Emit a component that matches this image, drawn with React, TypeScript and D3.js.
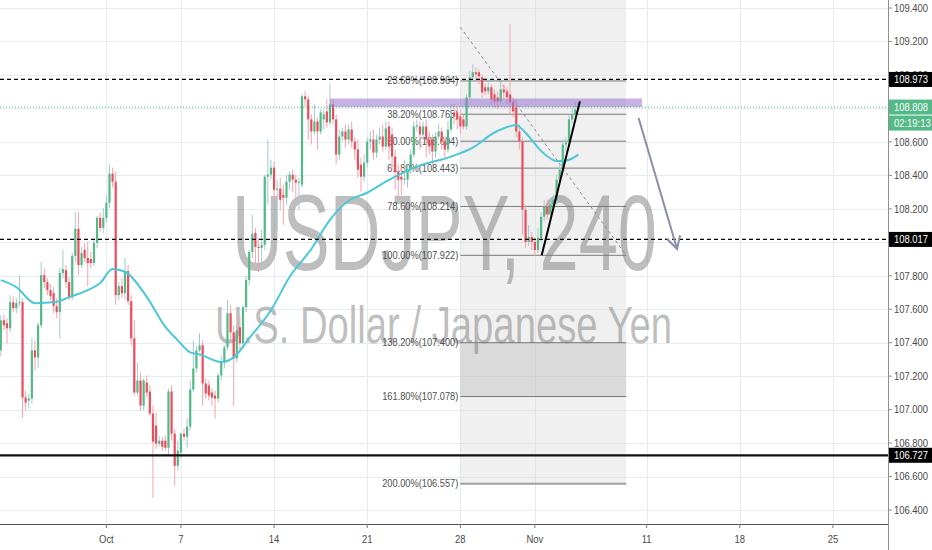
import React from 'react';
import * as d3 from 'd3';

// ---------- data ----------
const priceTicks = [106.4, 106.6, 106.8, 107.0, 107.2, 107.4, 107.6, 107.8, 108.0, 108.2, 108.4, 108.6, 108.8, 109.0, 109.2, 109.4];
const dateLabels = ['Oct', '7', '14', '21', '28', 'Nov', '11', '18', '25'];
const dateTradingDay = [6, 10, 15, 20, 25, 29, 35, 40, 45];
const BARS_PER_DAY = 6;

const FIRST_BAR = 2;
const opens = [
  107.354, 107.534, 107.516, 107.486, 107.642, 107.606, 107.636, 107.642, 107.072, 107.054,
  107.066, 107.354, 107.312, 107.504, 107.804, 107.762, 107.714, 107.696, 107.618, 107.582,
  107.816, 107.834, 107.762, 107.672, 107.918, 108.080, 107.864, 107.954, 107.906, 107.900,
  107.876, 107.996, 108.146, 108.086, 108.146, 108.236, 108.410, 108.362, 107.684, 107.738,
  107.696, 107.828, 107.648, 107.426, 107.102, 107.174, 107.024, 107.162, 107.108, 106.976,
  106.904, 106.796, 106.814, 106.814, 106.772, 107.108, 106.856, 106.664, 106.742, 106.856,
  106.838, 106.898, 107.120, 107.246, 107.354, 107.384, 107.156, 107.144, 107.102, 107.084,
  107.066, 107.204, 107.282, 107.372, 107.576, 107.462, 107.306, 107.492, 107.396, 107.612,
  107.774, 107.942, 108.056, 107.972, 107.966, 107.984, 108.392, 108.404, 108.446, 108.314,
  108.320, 108.284, 108.266, 108.362, 108.404, 108.374, 108.356, 108.344, 108.872, 108.854,
  108.734, 108.662, 108.722, 108.662, 108.734, 108.782, 108.716, 108.824, 108.734, 108.524,
  108.632, 108.662, 108.614, 108.674, 108.602, 108.554, 108.464, 108.392, 108.476, 108.602,
  108.614, 108.536, 108.614, 108.632, 108.572, 108.692, 108.644, 108.512, 108.422, 108.392,
  108.374, 108.374, 108.434, 108.524, 108.692, 108.692, 108.644, 108.692, 108.614, 108.614,
  108.542, 108.632, 108.662, 108.602, 108.554, 108.674, 108.776, 108.776, 108.752, 108.734,
  108.692, 108.866, 108.986, 109.016, 109.016, 108.986, 108.926, 108.902, 108.926, 108.884,
  108.866, 108.842, 108.914, 108.902, 108.884, 108.836, 108.806, 108.662, 108.602, 108.194,
  108.002, 108.032, 108.002, 107.954, 108.026, 108.152, 108.212, 108.170, 108.224, 108.254,
  108.374, 108.434, 108.584, 108.596, 108.734, 108.764, 108.794,
];
const highs = [
  107.564, 107.570, 107.546, 107.684, 107.678, 107.666, 107.804, 107.666, 107.114, 107.096,
  107.426, 107.414, 107.522, 107.882, 107.846, 107.786, 107.750, 107.732, 107.666, 107.846,
  107.954, 107.864, 107.792, 107.936, 108.182, 108.182, 107.972, 107.996, 108.002, 107.942,
  108.014, 108.158, 108.176, 108.206, 108.284, 108.464, 108.446, 108.422, 107.762, 107.786,
  107.906, 107.864, 107.684, 107.534, 107.282, 107.222, 107.186, 107.204, 107.144, 107.024,
  106.982, 106.844, 106.838, 106.844, 107.126, 107.144, 106.886, 106.814, 106.862, 106.886,
  106.946, 107.174, 107.414, 107.384, 107.456, 107.414, 107.186, 107.174, 107.126, 107.114,
  107.222, 107.324, 107.384, 107.654, 107.624, 107.504, 107.504, 107.564, 107.624, 107.804,
  107.954, 108.164, 108.086, 108.026, 108.074, 108.404, 108.614, 108.494, 108.482, 108.374,
  108.386, 108.344, 108.404, 108.422, 108.434, 108.404, 108.386, 108.884, 108.902, 108.872,
  108.764, 108.824, 108.746, 108.794, 108.794, 108.854, 108.944, 108.854, 108.764, 108.674,
  108.686, 108.704, 108.704, 108.722, 108.626, 108.614, 108.506, 108.524, 108.626, 108.662,
  108.674, 108.644, 108.686, 108.704, 108.722, 108.722, 108.686, 108.554, 108.464, 108.446,
  108.494, 108.464, 108.554, 108.722, 108.734, 108.722, 108.722, 108.734, 108.662, 108.644,
  108.656, 108.704, 108.686, 108.626, 108.722, 108.824, 108.824, 108.806, 108.794, 108.764,
  108.884, 109.022, 109.064, 109.046, 109.034, 109.004, 108.950, 108.974, 108.944, 108.914,
  108.902, 108.962, 108.944, 108.926, 109.304, 108.866, 108.854, 108.704, 108.626, 108.224,
  108.104, 108.062, 108.026, 108.086, 108.182, 108.254, 108.254, 108.266, 108.284, 108.404,
  108.464, 108.614, 108.626, 108.764, 108.806, 108.836, 108.842,
];
const lows = [
  107.318, 107.474, 107.396, 107.462, 107.582, 107.576, 107.618, 106.952, 106.994, 107.006,
  107.036, 107.234, 107.246, 107.486, 107.726, 107.684, 107.654, 107.576, 107.546, 107.426,
  107.786, 107.726, 107.654, 107.654, 107.882, 107.804, 107.846, 107.882, 107.738, 107.846,
  107.858, 107.966, 108.062, 108.056, 108.122, 108.206, 108.326, 107.624, 107.654, 107.666,
  107.654, 107.624, 107.384, 107.084, 107.084, 106.994, 106.994, 107.072, 106.964, 106.472,
  106.766, 106.778, 106.754, 106.754, 106.724, 106.814, 106.544, 106.634, 106.706, 106.814,
  106.766, 106.874, 107.102, 107.222, 107.342, 107.024, 107.066, 107.054, 107.024, 106.946,
  107.042, 107.174, 107.246, 107.354, 107.414, 107.024, 107.282, 107.354, 107.366, 107.582,
  107.744, 107.906, 107.864, 107.822, 107.834, 107.954, 108.224, 108.374, 108.254, 108.074,
  108.194, 108.104, 108.224, 108.314, 108.302, 108.254, 108.194, 108.326, 108.806, 108.614,
  108.584, 108.644, 108.554, 108.644, 108.674, 108.686, 108.698, 108.704, 108.464, 108.494,
  108.602, 108.566, 108.584, 108.566, 108.494, 108.386, 108.302, 108.362, 108.446, 108.554,
  108.494, 108.506, 108.584, 108.542, 108.554, 108.494, 108.434, 108.314, 108.266, 108.284,
  108.344, 108.326, 108.404, 108.506, 108.662, 108.554, 108.614, 108.506, 108.524, 108.464,
  108.506, 108.614, 108.554, 108.506, 108.536, 108.656, 108.704, 108.674, 108.644, 108.674,
  108.674, 108.854, 108.962, 108.974, 108.944, 108.866, 108.878, 108.884, 108.824, 108.806,
  108.794, 108.824, 108.854, 108.824, 108.764, 108.746, 108.626, 108.554, 108.044, 107.966,
  107.978, 107.954, 107.918, 107.936, 108.002, 108.122, 108.134, 108.146, 108.206, 108.224,
  108.344, 108.416, 108.542, 108.566, 108.710, 108.746, 108.776,
];
const closes = [
  107.534, 107.504, 107.486, 107.642, 107.606, 107.636, 107.642, 107.072, 107.042, 107.066,
  107.354, 107.312, 107.504, 107.804, 107.762, 107.714, 107.678, 107.618, 107.582, 107.816,
  107.840, 107.762, 107.672, 107.918, 108.080, 107.864, 107.936, 107.906, 107.876, 107.876,
  107.996, 108.146, 108.086, 108.146, 108.236, 108.410, 108.362, 107.684, 107.738, 107.696,
  107.828, 107.648, 107.426, 107.102, 107.174, 107.024, 107.174, 107.102, 106.976, 106.808,
  106.796, 106.814, 106.778, 106.772, 107.108, 106.856, 106.664, 106.754, 106.856, 106.838,
  106.898, 107.120, 107.246, 107.354, 107.384, 107.156, 107.096, 107.084, 107.072, 107.066,
  107.204, 107.282, 107.372, 107.576, 107.462, 107.306, 107.474, 107.396, 107.612, 107.774,
  107.942, 108.050, 107.972, 107.966, 107.984, 108.392, 108.404, 108.446, 108.314, 108.320,
  108.254, 108.266, 108.362, 108.404, 108.374, 108.356, 108.362, 108.872, 108.854, 108.734,
  108.662, 108.722, 108.662, 108.776, 108.764, 108.716, 108.824, 108.734, 108.524, 108.632,
  108.662, 108.614, 108.674, 108.602, 108.554, 108.434, 108.392, 108.476, 108.602, 108.614,
  108.536, 108.614, 108.632, 108.572, 108.680, 108.572, 108.512, 108.422, 108.374, 108.374,
  108.380, 108.434, 108.524, 108.692, 108.698, 108.644, 108.692, 108.614, 108.572, 108.542,
  108.632, 108.662, 108.602, 108.554, 108.674, 108.752, 108.752, 108.734, 108.692, 108.692,
  108.866, 108.986, 109.016, 109.004, 108.992, 108.896, 108.902, 108.926, 108.854, 108.842,
  108.842, 108.914, 108.896, 108.866, 108.836, 108.782, 108.662, 108.602, 108.194, 108.002,
  108.032, 108.002, 107.954, 108.026, 108.152, 108.212, 108.170, 108.224, 108.254, 108.374,
  108.434, 108.584, 108.596, 108.734, 108.764, 108.794, 108.808,
];

// moving average
const maBars = [2, 7, 13, 20, 24, 30, 34, 38, 42, 49, 55, 59, 63, 66, 73, 77, 82, 89, 95, 102, 108, 114, 120, 126, 136, 147, 154, 161, 166, 168, 170, 172, 175, 178, 181, 184, 188];
const maValues = [107.774, 107.732, 107.636, 107.644, 107.672, 107.714, 107.756, 107.840, 107.824, 107.674, 107.494, 107.414, 107.342, 107.330, 107.284, 107.312, 107.426, 107.594, 107.792, 107.960, 108.134, 108.248, 108.296, 108.362, 108.452, 108.512, 108.566, 108.656, 108.694, 108.701, 108.674, 108.634, 108.566, 108.514, 108.485, 108.488, 108.524];

// fibonacci
const fibLevels = ['23.60%', '38.20%', '50.00%', '61.80%', '78.60%', '100.00%', '138.20%', '161.80%', '200.00%'];
const fibPrices = [108.964, 108.765, 108.604, 108.443, 108.214, 107.922, 107.400, 107.078, 106.557];
const fibZeroPrice = 109.2855;
const fibStartBar = 150;
const fibEndBar = 203.4;

const dashedLevels = [108.973, 108.017];
const solidLevel = 106.727;
const lastPrice = 108.808;
const countdown = '02:19:13';

const zoneBars = [108, 208.5];
const zonePrices = [108.808, 108.859];
const trendBars = [176.2, 188.5];
const trendPrices = [107.922, 108.842];
const arrowBars = [207.4, 219.8];
const arrowPrices = [108.743, 107.96];

const symbolText = 'USDJPY, 240';
const descText = 'U.S. Dollar / Japanese Yen';

// ---------- layout ----------
const W = 932;
const H = 550;
const PLOT_R = 888;
const AXIS_Y = 524;
const FONT = "'Liberation Sans', Arial, sans-serif";
const UP = '#53b987';
const DOWN = '#eb4d5c';
const UP_WICK = '#a2c9d0';
const DOWN_WICK = '#f3a4ac';
const GRID = '#e6edf2';

const x = d3.scaleLinear().domain([0, 300]).range([-5.4, -5.4 + 300 * 3.105]);
const y = d3.scaleLinear().domain([106.4, 109.4]).range([510, 8]);
const fmt = d3.format('.3f');

function CText({ x: tx, y: ty, sx = 0.9, size = 10.5, anchor = 'start', fill = '#4a4a4a', children }: any) {
  return (
    <text
      transform={`translate(${tx},${ty}) scale(${sx},1)`}
      textAnchor={anchor}
      fontSize={size}
      fontFamily={FONT}
      fill={fill}
    >
      {children}
    </text>
  );
}

export default function App() {
  const candles = opens.map((o, k) => ({
    i: FIRST_BAR + k,
    o,
    h: Math.max(highs[k], o, closes[k]),
    l: Math.min(lows[k], o, closes[k]),
    c: closes[k],
  }));

  const maLine = d3
    .line<number>()
    .x((_, k) => x(maBars[k]))
    .y((v) => y(v))
    .curve(d3.curveMonotoneX)(maValues) as string;

  const fx0 = x(fibStartBar);
  const fx1 = x(fibEndBar);
  const bw = 2.2;

  // arrow geometry
  const ax0 = x(arrowBars[0]);
  const ay0 = y(arrowPrices[0]);
  const ax1 = x(arrowBars[1]);
  const ay1 = y(arrowPrices[1]);
  const ang = Math.atan2(ay1 - ay0, ax1 - ax0);
  const headLen = 14;
  const headAng = 0.5;
  const hx1 = ax1 - headLen * Math.cos(ang - headAng);
  const hy1 = ay1 - headLen * Math.sin(ang - headAng);
  const hx2 = ax1 - headLen * Math.cos(ang + headAng);
  const hy2 = ay1 - headLen * Math.sin(ang + headAng);

  const boxH = 15;

  return (
    <svg
      width={W}
      height={H}
      style={{ position: 'absolute', left: 0, top: 0, background: '#ffffff' }}
    >
      <defs>
        <clipPath id="plot">
          <rect x={0} y={0} width={PLOT_R} height={AXIS_Y} />
        </clipPath>
      </defs>
      <rect x={0} y={0} width={W} height={H} fill="#ffffff" />

      <g clipPath="url(#plot)">
        {/* grid */}
        {priceTicks.map((p) => (
          <line key={'hg' + p} x1={0} x2={PLOT_R} y1={Math.round(y(p)) + 0.5} y2={Math.round(y(p)) + 0.5} stroke={GRID} strokeWidth={1} />
        ))}
        {dateTradingDay.map((d) => (
          <line key={'vg' + d} x1={Math.round(x(d * BARS_PER_DAY)) + 0.5} x2={Math.round(x(d * BARS_PER_DAY)) + 0.5} y1={0} y2={AXIS_Y} stroke={GRID} strokeWidth={1} />
        ))}

        {/* fib background */}
        <rect x={fx0} y={0} width={fx1 - fx0} height={y(fibPrices[8])} fill="#d9d9d9" fillOpacity={0.4} />
        <rect x={fx0} y={y(fibPrices[6])} width={fx1 - fx0} height={y(fibPrices[7]) - y(fibPrices[6])} fill="#b3b3b3" fillOpacity={0.35} />

        {/* watermark */}
        <text x={232} y={270} fontSize={108} fontFamily={FONT} fill="rgb(110,110,110)" fillOpacity={0.45} textLength={425} lengthAdjust="spacingAndGlyphs">
          {symbolText}
        </text>
        <text x={215} y={343} fontSize={51} fontFamily={FONT} fill="rgb(110,110,110)" fillOpacity={0.45} textLength={457} lengthAdjust="spacingAndGlyphs">
          {descText}
        </text>

        {/* fib levels */}
        {fibPrices.map((p, k) => (
          <line
            key={'fl' + k}
            x1={fx0}
            x2={fx1}
            y1={y(p)}
            y2={y(p)}
            stroke={k === 8 ? '#9e9e9e' : '#7a7a7a'}
            strokeWidth={k === 8 ? 2 : 1}
          />
        ))}
        {fibPrices.map((p, k) => (
          <CText key={'ft' + k} x={fx0 - 2} y={y(p) + 3.5} anchor="end" size={10.3} sx={0.9} fill="#505050">
            {`${fibLevels[k]}(${fmt(p)})`}
          </CText>
        ))}
        <line x1={fx0} y1={y(fibZeroPrice)} x2={fx1} y2={y(fibPrices[5])} stroke="#8a8a8a" strokeWidth={1} strokeDasharray="3,3" />

        {/* candles */}
        {candles.map((d) => {
          const up = d.c >= d.o;
          const cx = x(d.i);
          const top = y(Math.max(d.o, d.c));
          const bot = y(Math.min(d.o, d.c));
          return (
            <g key={'c' + d.i}>
              <line x1={cx} x2={cx} y1={y(d.h)} y2={y(d.l)} stroke={up ? UP_WICK : DOWN_WICK} strokeWidth={1} />
              <rect x={cx - bw / 2} y={top} width={bw} height={Math.max(1, bot - top)} fill={up ? UP : DOWN} />
            </g>
          );
        })}

        {/* moving average */}
        <path d={maLine} fill="none" stroke="#4cc7d8" strokeWidth={2} />

        {/* horizontal levels */}
        {dashedLevels.map((p) => (
          <line key={'dl' + p} x1={0} x2={PLOT_R} y1={y(p)} y2={y(p)} stroke="#000" strokeWidth={1.2} strokeDasharray="4,3" />
        ))}
        <line x1={0} x2={PLOT_R} y1={y(solidLevel)} y2={y(solidLevel)} stroke="#111" strokeWidth={2.2} />
        <line x1={0} x2={PLOT_R} y1={y(lastPrice)} y2={y(lastPrice)} stroke={UP} strokeWidth={1} strokeDasharray="1,2" />

        {/* zone */}
        <rect
          x={x(zoneBars[0])}
          y={y(zonePrices[1])}
          width={x(zoneBars[1]) - x(zoneBars[0])}
          height={y(zonePrices[0]) - y(zonePrices[1])}
          fill="#9575cd"
          fillOpacity={0.55}
        />

        {/* trend line */}
        <line x1={x(trendBars[0])} y1={y(trendPrices[0])} x2={x(trendBars[1])} y2={y(trendPrices[1])} stroke="#000" strokeWidth={2} />

        {/* arrow */}
        <line x1={ax0} y1={ay0} x2={ax1} y2={ay1} stroke="#8c8ea8" strokeWidth={2} />
        <polyline points={`${hx1},${hy1} ${ax1},${ay1} ${hx2},${hy2}`} fill="none" stroke="#8c8ea8" strokeWidth={2} />
      </g>

      {/* axes */}
      <line x1={PLOT_R + 0.5} x2={PLOT_R + 0.5} y1={0} y2={H} stroke="#8f8f8f" strokeWidth={1} />
      <line x1={0} x2={PLOT_R} y1={AXIS_Y + 0.5} y2={AXIS_Y + 0.5} stroke="#555" strokeWidth={1} />

      {priceTicks.map((p) => (
        <g key={'pt' + p}>
          <line x1={PLOT_R} x2={PLOT_R + 4} y1={y(p)} y2={y(p)} stroke="#8f8f8f" />
          <CText x={PLOT_R + 6} y={y(p) + 3.8}>{fmt(p)}</CText>
        </g>
      ))}

      {dateTradingDay.map((d, k) => (
        <g key={'dt' + d}>
          <line x1={x(d * BARS_PER_DAY)} x2={x(d * BARS_PER_DAY)} y1={AXIS_Y} y2={AXIS_Y + 4} stroke="#777" />
          <CText x={x(d * BARS_PER_DAY)} y={AXIS_Y + 19} anchor="middle">{dateLabels[k]}</CText>
        </g>
      ))}

      {/* price labels */}
      {dashedLevels.concat([solidLevel]).map((p) => (
        <g key={'lb' + p}>
          <rect x={PLOT_R + 1} y={y(p) - boxH / 2} width={W - PLOT_R - 1} height={boxH} fill="#000" />
          <CText x={PLOT_R + 6} y={y(p) + 3.8} fill="#ffffff">{fmt(p)}</CText>
        </g>
      ))}
      <rect x={PLOT_R + 1} y={y(lastPrice) - boxH / 2} width={W - PLOT_R - 1} height={boxH} fill={UP} />
      <CText x={PLOT_R + 6} y={y(lastPrice) + 3.8} fill="#ffffff">{fmt(lastPrice)}</CText>
      <rect x={PLOT_R + 1} y={y(lastPrice) + boxH / 2 + 1} width={W - PLOT_R - 1} height={boxH} fill={UP} />
      <CText x={PLOT_R + 6} y={y(lastPrice) + boxH + 4.8} fill="#ffffff">{countdown}</CText>
    </svg>
  );
}
